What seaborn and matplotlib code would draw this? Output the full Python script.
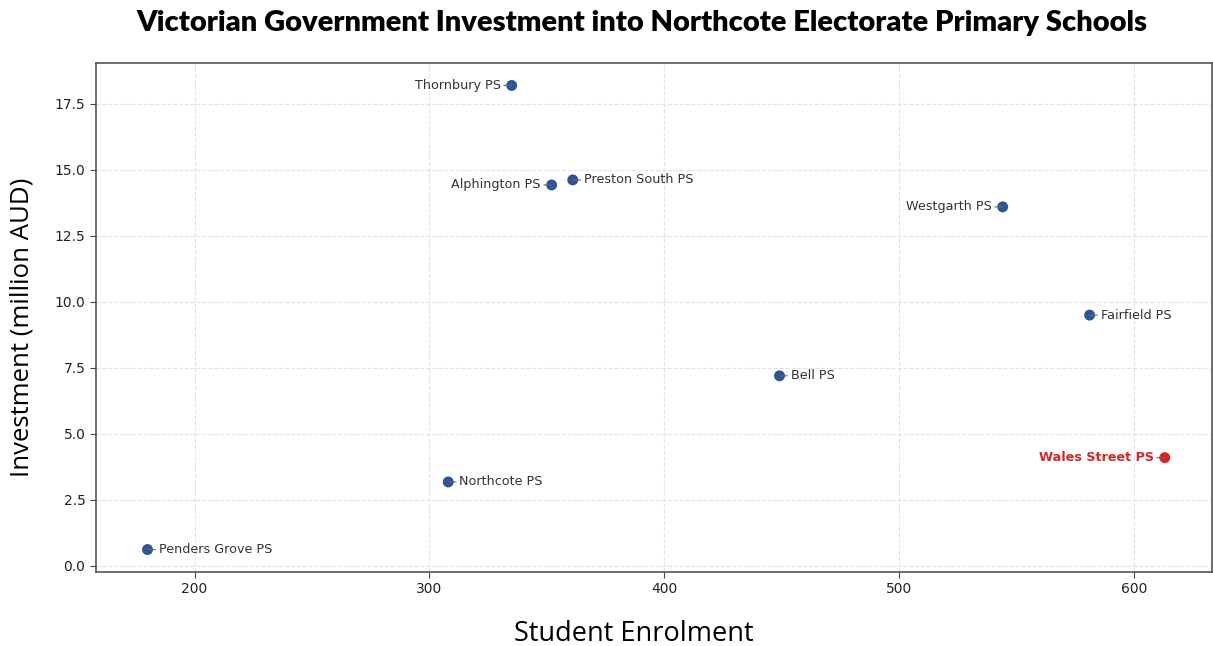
import matplotlib
matplotlib.use("Agg")
import matplotlib.pyplot as plt
import seaborn as sns
import pandas as pd

# data
schools = ["Thornbury PS", "Alphington PS", "Preston South PS", "Westgarth PS",
           "Fairfield PS", "Bell PS", "Wales Street PS", "Northcote PS",
           "Penders Grove PS"]
enrolment = [335, 352, 361, 544, 581, 449, 613, 308, 180]
investment = [18.2, 14.43, 14.62, 13.6, 9.5, 7.2, 4.1, 3.18, 0.62]
label_side = ["left", "left", "right", "left", "right", "right", "left", "right", "right"]
highlight = "Wales Street PS"

df = pd.DataFrame({"school": schools, "enrolment": enrolment,
                   "investment": investment, "side": label_side})
df["group"] = ["highlight" if s == highlight else "other" for s in df["school"]]

sns.set_style("white")
fig, ax = plt.subplots(figsize=(12.13, 6.46), dpi=100)

palette = {"other": "#2f5597", "highlight": "#d62728"}
sns.scatterplot(data=df, x="enrolment", y="investment", hue="group",
                palette=palette, s=62, edgecolor="none", legend=False, ax=ax)

for _, row in df.iterrows():
    is_hl = row["school"] == highlight
    dx = -8 if row["side"] == "left" else 8
    ax.annotate(row["school"], (row["enrolment"], row["investment"]),
                xytext=(dx, 0), textcoords="offset points",
                ha="right" if dx < 0 else "left", va="center",
                fontsize=9.2, color="#d62728" if is_hl else "#333333",
                fontweight="bold" if is_hl else "normal",
                arrowprops=dict(arrowstyle="-", color="#666666", lw=0.8,
                                shrinkA=0, shrinkB=0))

ax.set_xlim(158, 633)
ax.set_ylim(-0.23, 19.05)
ax.set_xticks([200, 300, 400, 500, 600])
ax.set_yticks([0, 2.5, 5, 7.5, 10, 12.5, 15, 17.5])
ax.set_yticklabels(["0.0", "2.5", "5.0", "7.5", "10.0", "12.5", "15.0", "17.5"])
ax.tick_params(axis="both", labelsize=10, labelcolor="#222222", length=4,
               color="#444444", left=True, bottom=True)
ax.grid(True, linestyle="--", color="#e3e3e3", linewidth=0.8)
ax.set_axisbelow(True)
for sp in ax.spines.values():
    sp.set_color("#555555")
    sp.set_linewidth(1.2)

ax.set_xlabel("Student Enrolment", fontsize=19.5, family="Open Sans", color="black")
ax.xaxis.set_label_coords(0.482, -0.095)
ax.set_ylabel("Investment (million AUD)", fontsize=18.5, family="Open Sans", color="black")
ax.yaxis.set_label_coords(-0.055, 0.48)
fig.text(0.529, 0.965, "Victorian Government Investment into Northcote Electorate Primary Schools",
         fontsize=21, fontweight="heavy", family="Lato", ha="center", va="center", color="black")

fig.subplots_adjust(left=0.079, right=0.999, bottom=0.1146, top=0.9025)
fig.savefig("out.png", dpi=100)
